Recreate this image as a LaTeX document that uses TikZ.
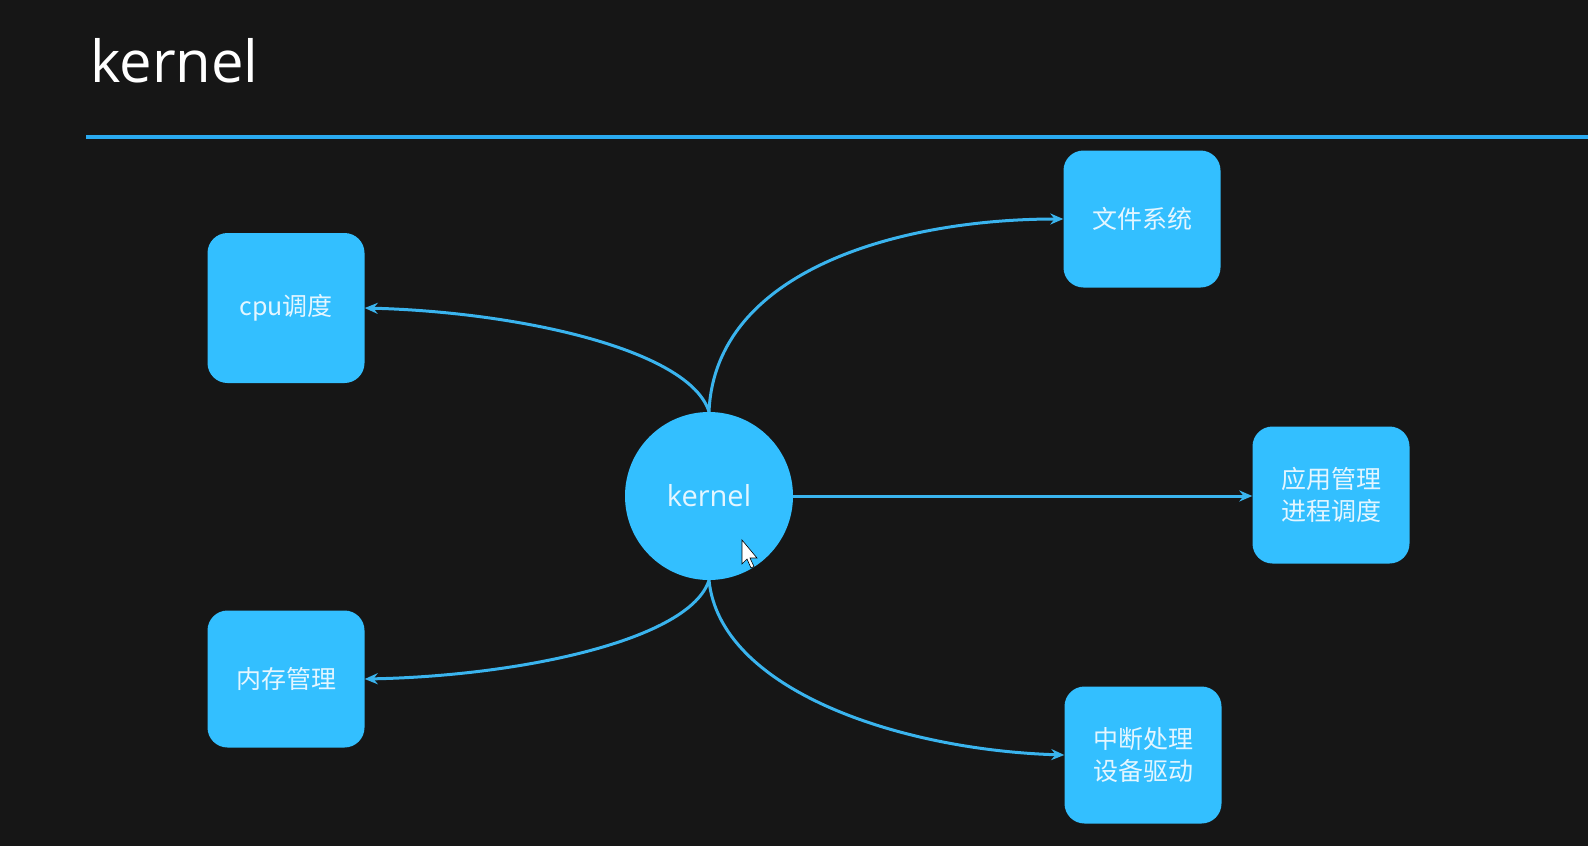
\documentclass[tikz,border=0pt]{standalone}
\usepackage{fontspec}
\setmainfont{Open Sans}
\newfontfamily\cjk{Noto Sans CJK SC}
\usetikzlibrary{arrows.meta}
\definecolor{bg}{HTML}{161616}
\definecolor{boxblue}{HTML}{33BFFF}
\definecolor{lineblue}{HTML}{3AB4EE}
\definecolor{rule}{HTML}{2AAAF0}
\definecolor{txt}{HTML}{E4F6FF}
\tikzset{
  box/.style={fill=boxblue, rounded corners=20pt, minimum width=157pt, minimum height=137pt,
    inner sep=0pt, text=txt, font=\cjk\fontsize{25}{32}\selectfont, align=center},
  hub/.style={circle, fill=boxblue, minimum size=168pt, inner sep=0pt, text=txt,
    font=\fontsize{29}{34}\selectfont},
  conn/.style={draw=lineblue, line width=3pt, -{Stealth[length=13pt,width=11pt]}},
}
\begin{document}
\begin{tikzpicture}[x=1pt,y=-1pt]
\fill[bg] (0,0) rectangle (1588,846);
\useasboundingbox (0,0) rectangle (1588,846);
\node[anchor=base west, text=white, font=\fontsize{58}{64}\selectfont, inner sep=0pt] (title) at (90,82) {kernel};
\coordinate (rl) at (86,137);
\coordinate (rr) at (1588,137);
\draw[rule, line width=4pt] (rl) -- (rr);

\node[box, minimum height=150pt] (cpu) at (286,308) {cpu调度};
\node[box] (fs) at (1142,219) {文件系统};
\node[box] (app) at (1331,495) {应用管理\\进程调度};
\node[box] (mem) at (286,679) {内存管理};
\node[box] (irq) at (1143,755) {中断处理\\设备驱动};
\node[hub] (k) at (709,496) {kernel};

\draw[conn] (k.north) .. controls (690,350) and (520,312) .. (cpu.east);
\draw[conn] (k.north) .. controls (715,270) and (900,219) .. (fs.west);
\draw[conn] (k.east) -- (app.west |- k.east);
\draw[conn] (k.south) .. controls (690,640) and (520,676) .. (mem.east);
\draw[conn] (k.south) .. controls (720,690) and (900,750) .. (irq.west);

% mouse cursor
\coordinate (cur) at (742,540);
\fill[white, draw=black, line width=0.6pt] (cur) -- ++(0,24) -- ++(5,-5) -- ++(4,9) -- ++(3,-1.5) -- ++(-4,-8.5) -- ++(7,0) -- cycle;
\end{tikzpicture}
\end{document}
